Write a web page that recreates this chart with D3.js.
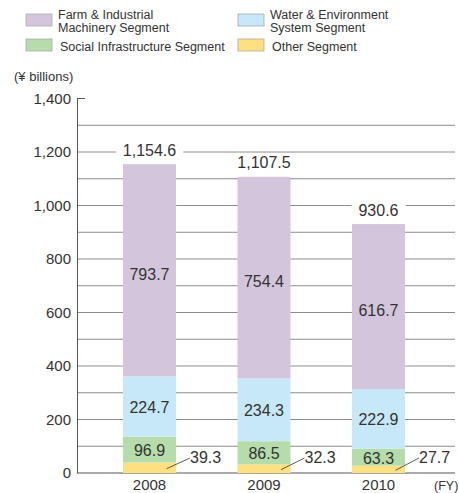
<!DOCTYPE html>
<html><head><meta charset="utf-8">
<script src="https://cdn.jsdelivr.net/npm/d3@7"></script>
<style>body{margin:0;background:#fff}text{font-family:"Liberation Sans",Arial,sans-serif;fill:#333}</style>
</head><body>
<svg id="c" width="459" height="493"></svg>
<script>
const years = ["2008","2009","2010"];
const other = [39.3, 32.3, 27.7];
const social = [96.9, 86.5, 63.3];
const water = [224.7, 234.3, 222.9];
const farm = [793.7, 754.4, 616.7];
const totals = ["1,154.6","1,107.5","930.6"];
const yTicks = [0,200,400,600,800,1000,1200,1400];
const segNames = ["Other Segment","Social Infrastructure Segment","Water & Environment System Segment","Farm & Industrial Machinery Segment"];
const colors = ["#fde07f","#b5dcaa","#c7e8f8","#d3c6dc"];

const svg = d3.select("#c");
const y = d3.scaleLinear().domain([0,1400]).range([473,98.5]);
const x = d3.scaleBand().domain(years).range([123,405]).paddingInner(0.537).paddingOuter(0);
const fmt = d3.format(",");

// gridlines
const grid = d3.range(100,1400,100);
svg.append("g").selectAll("line").data(grid).join("line")
  .attr("x1",77).attr("x2",455).attr("y1",d=>y(d)).attr("y2",d=>y(d))
  .attr("stroke","#8c8c8c").attr("stroke-width",1);
svg.append("line").attr("x1",77).attr("x2",85).attr("y1",y(1400)).attr("y2",y(1400)).attr("stroke","#555");

// axis
const yAxis = d3.axisLeft(y).tickValues(yTicks).tickFormat(d=>fmt(d)).tickSize(0).tickPadding(6);
const ga = svg.append("g").attr("transform","translate(77,0)").call(yAxis);
ga.select(".domain").attr("stroke","#555");
ga.selectAll("text").style("font-size","15px").attr("fill","#333").style("font-family","'Liberation Sans',Arial,sans-serif");
svg.append("line").attr("x1",77).attr("x2",455).attr("y1",y(0)).attr("y2",y(0)).attr("stroke","#555");

// stacked data
const rows = years.map((yr,i)=>({year:yr, s0:other[i], s1:social[i], s2:water[i], s3:farm[i]}));
const stack = d3.stack().keys(["s0","s1","s2","s3"])(rows);

stack.forEach((layer,li)=>{
  svg.append("g").selectAll("rect").data(layer).join("rect")
    .attr("x",d=>x(d.data.year)).attr("width",x.bandwidth())
    .attr("y",d=>y(d[1])).attr("height",d=>y(d[0])-y(d[1]))
    .attr("fill",colors[li]);
});

// segment labels (except "other")
stack.slice(1).forEach((layer,li)=>{
  svg.append("g").selectAll("text").data(layer).join("text")
    .attr("x",d=>x(d.data.year)+x.bandwidth()/2)
    .attr("y",d=>(y(d[0])+y(d[1]))/2+ (li===2?4:1))
    .attr("text-anchor","middle").attr("dominant-baseline","central")
    .style("font-size","16px")
    .text(d=>(d[1]-d[0]).toFixed(1));
});

// other labels with leader line
years.forEach((yr,i)=>{
  const x0 = x(yr)+x.bandwidth()/2+17, y0 = y(other[i]/2)+1;
  const x1 = x(yr)+x.bandwidth()+14, ty = y(0)-16;
  svg.append("line").attr("x1",x0).attr("y1",y0).attr("x2",x1).attr("y2",ty+1)
    .attr("stroke","#333").attr("stroke-width",0.8);
  svg.append("text").attr("x",x1).attr("y",ty).attr("dominant-baseline","central")
    .style("font-size","16px").text(other[i].toFixed(1));
});

// totals with white background
years.forEach((yr,i)=>{
  const cx = x(yr)+x.bandwidth()/2, ty = y(farm[i]+water[i]+social[i]+other[i])-14;
  const bg = svg.append("rect").attr("fill","#fff");
  const t = svg.append("text").attr("x",cx).attr("y",ty).attr("text-anchor","middle")
    .attr("dominant-baseline","central").style("font-size","16px").text(totals[i]);
  const bb = t.node().getBBox();
  bg.attr("x",bb.x-7).attr("y",bb.y).attr("width",bb.width+14).attr("height",bb.height);
});

// x labels
svg.append("g").selectAll("text").data(years).join("text")
  .attr("x",d=>x(d)+x.bandwidth()/2).attr("y",490).attr("text-anchor","middle")
  .style("font-size","15px").text(d=>d);
svg.append("text").attr("x",434).attr("y",490).style("font-size","12.5px").text("(FY)");
svg.append("text").attr("x",14).attr("y",81).style("font-size","13px").text("(¥ billions)");

// legend
const leg = [
  {i:3, x:26, y:14, lines:["Farm & Industrial","Machinery Segment"], tx:58},
  {i:2, x:238, y:14, lines:["Water & Environment","System Segment"], tx:270},
  {i:1, x:26, y:39, lines:["Social Infrastructure Segment"], tx:60},
  {i:0, x:238, y:39, lines:["Other Segment"], tx:272}
];
leg.forEach(l=>{
  svg.append("rect").attr("x",l.x).attr("y",l.y).attr("width",26).attr("height",12)
    .attr("fill",colors[l.i]).attr("stroke","#aaa").attr("stroke-width",0.8);
  l.lines.forEach((s,j)=>{
    svg.append("text").attr("x",l.tx).attr("y", l.lines.length===2 ? 18.5+j*13.5 : l.y+12)
      .style("font-size","12.5px").text(s);
  });
});
</script>
</body></html>
